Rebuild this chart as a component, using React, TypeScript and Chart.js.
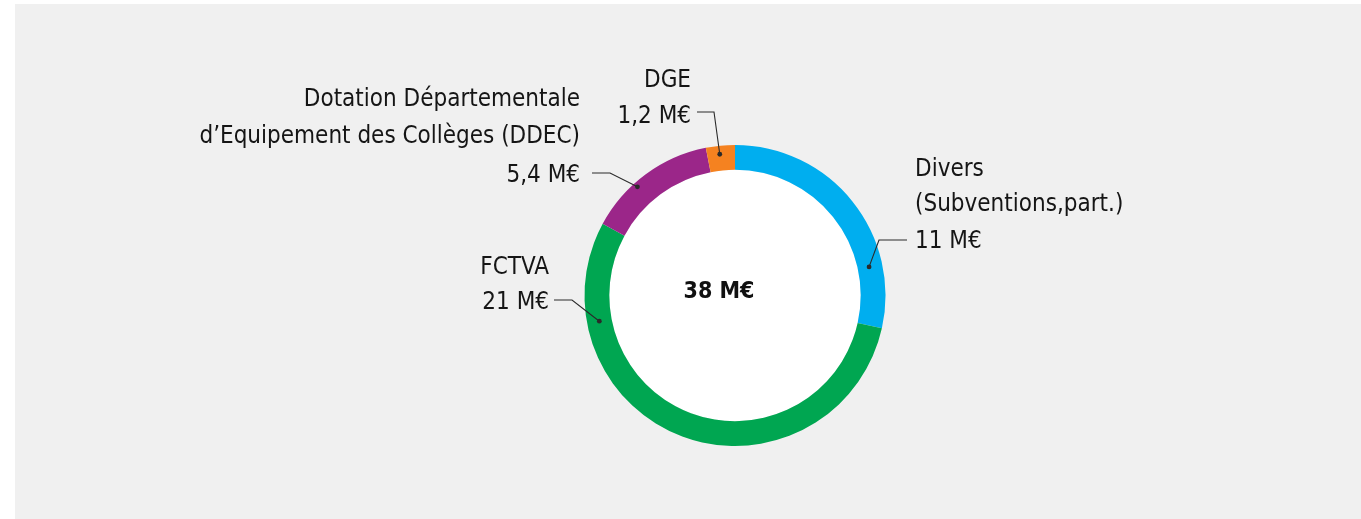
import React, { useEffect, useRef } from "react";
import { Chart, registerables } from "chart.js";

Chart.register(...registerables);

const categories = ["Divers", "FCTVA", "DDEC", "DGE"];
const values = [11, 21, 5.4, 1.2];
const valueLabels = ["11 M€", "21 M€", "5,4 M€", "1,2 M€"];
const titleLines = [
  ["Divers", "(Subventions,part.)"],
  ["FCTVA"],
  ["Dotation Départementale", "d’Equipement des Collèges (DDEC)"],
  ["DGE"],
];
const totalLabel = "38 M€";
const colors = ["#00aeef", "#00a651", "#9b2689", "#f58220"];

// layout for the callouts (relative to doughnut centre)
const layout = [
  { frac: 0.76, rOff: -1, elbow: [144, -55.5], end: [172, -55.5], textX: 180, align: "left", ys: [-125.5, -90.5, -53.5] },
  { frac: 0.8, rOff: 0, elbow: [-163, 4.5], end: [-181, 4.5], textX: -186, align: "right", ys: [-27.5, 7.5] },
  { frac: 0.39, rOff: 8, elbow: [-125, -122.5], end: [-143, -122.5], textX: -155, align: "right", ys: [-195.5, -158.5, -119.5] },
  { frac: 0.45, rOff: 4, elbow: [-21, -183.5], end: [-38, -183.5], textX: -44, align: "right", ys: [-214.5, -178.5] },
];

const FONT = "'Liberation Sans Narrow', 'DejaVu Sans Condensed', 'Noto Sans', sans-serif";

const calloutPlugin = {
  id: "callouts",
  beforeDatasetsDraw(chart: any) {
    const meta = chart.getDatasetMeta(0);
    const arc = meta.data[0];
    const { x, y, innerRadius } = arc.getProps(["x", "y", "innerRadius"], true);
    const ctx = chart.ctx;
    ctx.save();
    ctx.fillStyle = "#ffffff";
    ctx.beginPath();
    ctx.arc(x, y, innerRadius, 0, Math.PI * 2);
    ctx.fill();
    ctx.restore();
  },
  afterDatasetsDraw(chart: any) {
    const meta = chart.getDatasetMeta(0);
    const ctx = chart.ctx;
    ctx.save();
    meta.data.forEach((el: any, i: number) => {
      const p = el.getProps(["x", "y", "startAngle", "endAngle", "innerRadius", "outerRadius"], true);
      const L = layout[i];
      const a = p.startAngle + (p.endAngle - p.startAngle) * L.frac;
      const r = (p.innerRadius + p.outerRadius) / 2 + L.rOff;
      const dx = p.x + Math.cos(a) * r;
      const dy = p.y + Math.sin(a) * r;
      ctx.strokeStyle = "#2a2a2a";
      ctx.lineWidth = 1.1;
      ctx.beginPath();
      ctx.moveTo(dx, dy);
      ctx.lineTo(p.x + L.elbow[0], p.y + L.elbow[1]);
      ctx.lineTo(p.x + L.end[0], p.y + L.end[1]);
      ctx.stroke();
      ctx.fillStyle = "#2a2a2a";
      ctx.beginPath();
      ctx.arc(dx, dy, 2.4, 0, Math.PI * 2);
      ctx.fill();
      const lines = [...titleLines[i], valueLabels[i]];
      ctx.fillStyle = "#151515";
      ctx.font = `24px ${FONT}`;
      ctx.textAlign = L.align;
      ctx.textBaseline = "middle";
      lines.forEach((t, j) => {
        ctx.fillText(t, p.x + L.textX, p.y + L.ys[j]);
      });
    });
    const c = meta.data[0];
    ctx.font = `bold 23px ${FONT}`;
    ctx.textAlign = "center";
    ctx.textBaseline = "middle";
    ctx.fillStyle = "#111111";
    ctx.fillText(totalLabel, c.x - 16, c.y - 3.5);
    ctx.restore();
  },
};

export default function App() {
  const ref = useRef<HTMLCanvasElement>(null);
  useEffect(() => {
    if (!ref.current) return;
    const chart = new Chart(ref.current, {
      type: "doughnut",
      data: {
        labels: categories,
        datasets: [
          {
            data: values,
            backgroundColor: colors,
            borderWidth: 0,
          },
        ],
      },
      options: {
        animation: false,
        responsive: false,
        devicePixelRatio: 1,
        cutout: "83.5%",
        layout: { padding: { top: 141, bottom: 73, left: 569.5, right: 475.5 } },
        plugins: { legend: { display: false }, tooltip: { enabled: false } },
        events: [],
      },
      plugins: [calloutPlugin],
    });
    return () => chart.destroy();
  }, []);
  return (
    <div style={{ position: "fixed", left: 0, top: 0, width: 1361, height: 519, background: "#ffffff" }}>
      <div style={{ position: "absolute", left: 15, top: 4, width: 1346, height: 515, background: "#f0f0f0" }}>
        <canvas ref={ref} width={1346} height={515} style={{ display: "block" }} />
      </div>
    </div>
  );
}
